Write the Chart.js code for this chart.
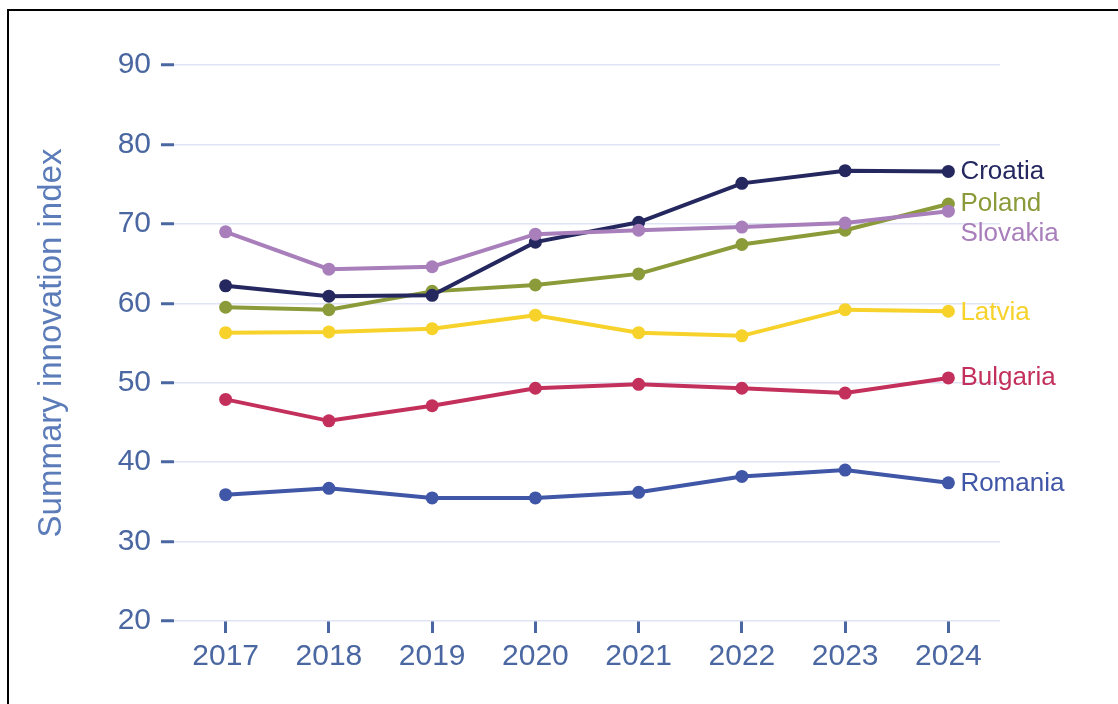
<!DOCTYPE html>
<html>
<head>
<meta charset="utf-8">
<script src="https://cdn.jsdelivr.net/npm/chart.js@4/dist/chart.umd.min.js"></script>
<style>
  html, body { margin: 0; padding: 0; background: #fff; }
  #wrap { position: absolute; left: 0; top: 0; width: 1118px; height: 704px; }
  #frame {
    position: absolute; left: 7px; top: 9px; right: 0; bottom: 0;
    border-top: 2px solid #000; border-left: 2px solid #000;
    pointer-events: none;
  }
</style>
</head>
<body>
<div id="wrap"><canvas id="chart" width="1118" height="704"></canvas></div>
<div id="frame"></div>
<script>
// values
const years = ['2017', '2018', '2019', '2020', '2021', '2022', '2023', '2024'];
const croatia  = [62.2, 60.9, 61.0, 67.7, 70.2, 75.1, 76.7, 76.6];
const poland   = [59.5, 59.2, 61.5, 62.3, 63.7, 67.4, 69.2, 72.5];
const slovakia = [69.0, 64.3, 64.6, 68.7, 69.2, 69.6, 70.1, 71.6];
const latvia   = [56.3, 56.4, 56.8, 58.5, 56.3, 55.9, 59.2, 59.0];
const bulgaria = [47.9, 45.2, 47.1, 49.3, 49.8, 49.3, 48.7, 50.6];
const romania  = [35.9, 36.7, 35.5, 35.5, 36.2, 38.2, 39.0, 37.4];
const yTicks = [20, 30, 40, 50, 60, 70, 80, 90];

const axisBlue = '#4a67a1';
const font = '"Liberation Sans", Arial, sans-serif';

function series(label, data, color, labelShift) {
  return {
    label, data,
    borderColor: color, backgroundColor: color,
    pointBackgroundColor: color, pointBorderWidth: 0,
    pointRadius: 6.5, pointHoverRadius: 6.5,
    borderWidth: 4, tension: 0,
    labelShift
  };
}

// end labels next to the last point of each line
const endLabels = {
  id: 'endLabels',
  afterDatasetsDraw(chart) {
    const ctx = chart.ctx;
    ctx.save();
    ctx.font = '26px ' + font;
    ctx.textAlign = 'left';
    ctx.textBaseline = 'middle';
    chart.data.datasets.forEach((ds, i) => {
      const pts = chart.getDatasetMeta(i).data;
      const last = pts[pts.length - 1];
      ctx.fillStyle = ds.borderColor;
      ctx.fillText(ds.label, last.x + 12, last.y + ds.labelShift);
    });
    ctx.restore();
  }
};

new Chart(document.getElementById('chart'), {
  type: 'line',
  data: {
    labels: years,
    datasets: [
      series('Slovakia', slovakia, '#a87fbb', 23),
      series('Croatia', croatia, '#25285f', 0),
      series('Poland', poland, '#8b9b39', 0),
      series('Latvia', latvia, '#f6d22a', 2),
      series('Bulgaria', bulgaria, '#c3305b', 0),
      series('Romania', romania, '#4056a6', 1)
    ]
  },
  options: {
    responsive: false,
    animation: false,
    events: [],
    layout: { padding: { top: 65, right: 118, left: 32, bottom: 0 } },
    plugins: {
      legend: { display: false },
      tooltip: { enabled: false }
    },
    scales: {
      x: {
        offset: true,
        border: { display: false },
        grid: {
          drawOnChartArea: false,
          drawTicks: true,
          tickLength: 12,
          tickWidth: 3,
          tickColor: axisBlue
        },
        ticks: {
          color: axisBlue,
          padding: 6,
          maxRotation: 0,
          font: { family: font, size: 30 }
        },
        afterFit(scale) { scale.height = 83; }
      },
      y: {
        min: 20,
        max: 90,
        border: { display: false },
        afterBuildTicks(scale) { scale.ticks = yTicks.map(v => ({ value: v })); },
        grid: {
          color: '#dfe4f5',
          lineWidth: 1.5,
          drawTicks: true,
          tickLength: 13,
          tickWidth: 3,
          tickColor: axisBlue
        },
        ticks: {
          color: axisBlue,
          padding: 10,
          font: { family: font, size: 30 }
        },
        title: {
          display: true,
          text: 'Summary innovation index',
          color: '#5b7bb9',
          padding: { top: 0, bottom: 0 },
          font: { family: font, size: 33 }
        },
        afterFit(scale) { scale.width = 142; }
      }
    }
  },
  plugins: [endLabels]
});
</script>
</body>
</html>
